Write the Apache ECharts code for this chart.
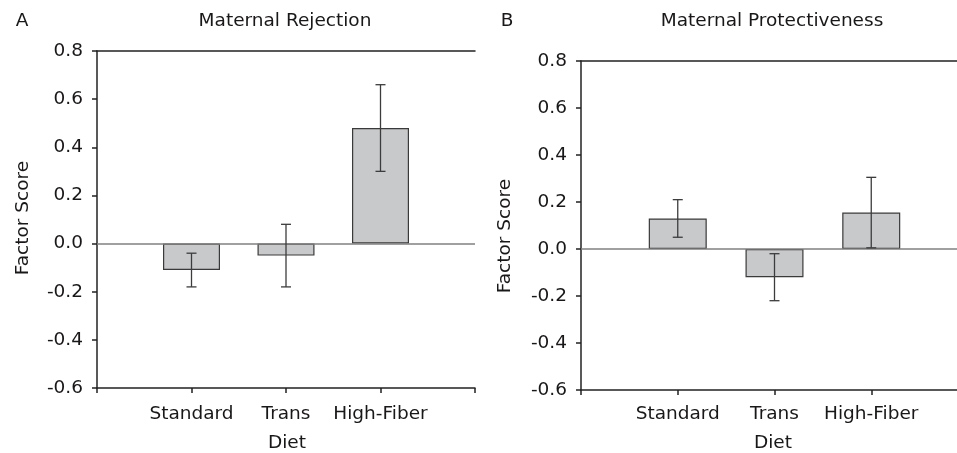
<!DOCTYPE html>
<html>
<head>
<meta charset="utf-8">
<script src="https://cdn.jsdelivr.net/npm/echarts@6/dist/echarts.min.js"></script>
<style>html,body{margin:0;padding:0;background:#fff;}#c{width:957px;height:453px;}</style>
</head>
<body>
<div id="c"></div>
<script>
const categories = ['Standard', 'Trans', 'High-Fiber'];
const rejectionMean = [-0.11, -0.05, 0.48];
const rejectionLow  = [-0.18, -0.18, 0.30];
const rejectionHigh = [-0.04, 0.08, 0.66];
const protectMean = [0.13, -0.12, 0.155];
const protectLow  = [0.05, -0.22, 0.005];
const protectHigh = [0.21, -0.02, 0.305];
const yMin = -0.6, yMax = 0.8, yStep = 0.2;
const panelTitles = ['Maternal Rejection', 'Maternal Protectiveness'];
const panelLetters = ['A', 'B'];
const yName = 'Factor Score';
const xName = 'Diet';

const FONT = 'DejaVu Sans';
const FS = 18.5;
const TXT = '#1a1718';

const chart = echarts.init(document.getElementById('c'));

function xAxisBottom(gi, margin) {
  return {
    type: 'value', gridIndex: gi, position: 'bottom', min: 0, max: categories.length + 1, interval: 1,
    axisLine: { show: true, onZero: false, lineStyle: { color: '#222', width: 1.5 } },
    axisTick: { show: true, length: 5, inside: false, lineStyle: { color: '#222', width: 1.5 } },
    splitLine: { show: false },
    axisLabel: { margin: margin, fontFamily: FONT, fontSize: FS, color: TXT, showMinLabel: true, showMaxLabel: true,
      formatter: v => (v >= 1 && v <= categories.length) ? categories[v - 1] : '' }
  };
}
function xAxisTop(gi) {
  return {
    type: 'value', gridIndex: gi, position: 'top', min: 0, max: categories.length + 1,
    axisLine: { show: true, onZero: false, lineStyle: { color: '#222', width: 1.5 } },
    axisTick: { show: false }, axisLabel: { show: false }, splitLine: { show: false }
  };
}
function yAxis(gi) {
  return {
    type: 'value', gridIndex: gi, min: yMin, max: yMax, interval: yStep,
    axisLine: { show: true, onZero: false, lineStyle: { color: '#222', width: 1.5 } },
    axisTick: { show: true, length: 5, lineStyle: { color: '#222', width: 1.5 } },
    splitLine: { show: false },
    axisLabel: { margin: 14, fontFamily: FONT, fontSize: FS, color: TXT, formatter: v => v.toFixed(1) }
  };
}

function barSeries(gi, means, bw) {
  return {
    type: 'bar', xAxisIndex: gi * 2, yAxisIndex: gi, barWidth: bw,
    data: means.map((m, i) => [i + 1, m]),
    itemStyle: { color: '#c8c9cb', borderColor: '#3a3a3a', borderWidth: 1.2 },
    markLine: { silent: true, symbol: ['none', 'none'], label: { show: false },
      lineStyle: { color: '#808080', width: 1.5, type: 'solid' }, data: [{ yAxis: 0 }] },
    z: 2
  };
}
function errSeries(gi, lows, highs) {
  return {
    type: 'custom', xAxisIndex: gi * 2, yAxisIndex: gi,
    data: lows.map((l, i) => [i + 1, l, highs[i]]),
    renderItem: function (params, api) {
      const x = api.value(0);
      const lo = api.coord([x, api.value(1)]);
      const hi = api.coord([x, api.value(2)]);
      const hw = 5;
      const st = { stroke: '#3c3c3c', lineWidth: 1.3 };
      return { type: 'group', children: [
        { type: 'line', shape: { x1: lo[0], y1: lo[1], x2: hi[0], y2: hi[1] }, style: st },
        { type: 'line', shape: { x1: lo[0] - hw, y1: lo[1], x2: lo[0] + hw, y2: lo[1] }, style: st },
        { type: 'line', shape: { x1: hi[0] - hw, y1: hi[1], x2: hi[0] + hw, y2: hi[1] }, style: st }
      ]};
    },
    z: 5
  };
}

function txt(x, y, s, rot) {
  return { type: 'text', x: x, y: y, rotation: rot || 0,
    style: { text: s, fontFamily: FONT, fontSize: FS, fill: TXT, textAlign: 'center', textVerticalAlign: 'middle' } };
}

chart.setOption({
  animation: false,
  grid: [
    { left: 97, top: 51, width: 378, height: 337, outerBoundsMode: 'none' },
    { left: 581, top: 61, width: 387, height: 329, outerBoundsMode: 'none' }
  ],
  xAxis: [xAxisBottom(0, 17), xAxisTop(0), xAxisBottom(1, 15), xAxisTop(1)],
  yAxis: [yAxis(0), yAxis(1)],
  series: [
    barSeries(0, rejectionMean, 57),
    errSeries(0, rejectionLow, rejectionHigh),
    barSeries(1, protectMean, 58),
    errSeries(1, protectLow, protectHigh)
  ],
  graphic: [
    txt(22, 21, panelLetters[0]),
    txt(507, 21, panelLetters[1]),
    txt(285, 21, panelTitles[0]),
    txt(772, 21, panelTitles[1]),
    txt(23, 218, yName, Math.PI / 2),
    txt(505, 236, yName, Math.PI / 2),
    txt(287, 443, xName),
    txt(773, 443, xName)
  ]
});
</script>
</body>
</html>
